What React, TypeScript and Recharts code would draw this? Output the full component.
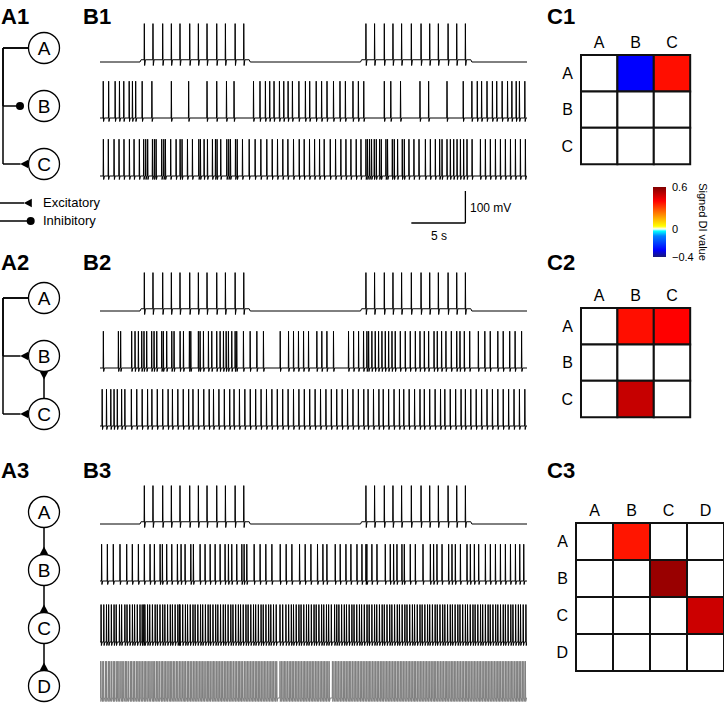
import React from "react";
import {
  LineChart, Line, XAxis, YAxis, ScatterChart, Scatter,
  ReferenceLine, ReferenceDot, ReferenceArea, ComposedChart, Bar,
} from "recharts";

const FONT = "'Liberation Sans', Arial, sans-serif";

// ---- B: spike times (s) ----
const T_END = 39.5;
const spikesA = [4.1, 4.9, 5.8, 6.6, 7.4, 8.3, 9.1, 9.9, 10.8, 11.6, 12.5, 13.3,
  24.6, 25.4, 26.3, 27.1, 27.9, 28.8, 29.7, 30.5, 31.3, 32.2, 33.0, 33.8];
const burstsA: [number, number][] = [[3.7, 13.9], [24.1, 34.4]];

const spikesB1b = [0.3, 0.8, 1.4, 1.8, 2.2, 2.7, 3.0, 3.3, 3.9, 4.8, 6.6, 8.2, 9.9, 10.8, 11.7, 12.4,
  14.2, 14.8, 15.3, 15.7, 16.1, 16.6, 17.0, 17.4, 17.8, 18.4, 19.0, 19.4, 20.0, 20.5, 21.0, 21.6,
  22.2, 22.7, 23.4, 23.9, 24.4, 26.3, 26.9, 27.8, 29.6, 30.4, 32.1, 33.6, 34.4, 34.9, 35.3, 35.8,
  36.3, 36.7, 37.2, 37.7, 38.1, 38.5, 38.8, 39.3];
const spikesB1c = [0.31, 0.77, 1.3, 1.76, 2.22, 2.72, 3.15, 3.64, 4.04, 4.23, 4.41, 4.85, 5.03, 5.19,
  5.71, 5.9, 6.05, 6.54, 7.04, 7.41, 7.59, 8.09, 8.55, 9.14, 9.29, 9.63, 9.94, 10.4, 10.68, 10.83,
  11.17, 11.73, 11.91, 12.07, 12.53, 12.69, 13.18, 13.8, 14.35, 14.88, 15.43, 15.93, 16.42, 16.91,
  17.38, 17.9, 18.43, 18.89, 19.38, 19.85, 20.31, 20.74, 21.3, 21.79, 22.28, 22.75, 23.21, 23.7,
  24.14, 24.6, 24.75, 24.94, 25.12, 25.37, 25.56, 25.86, 26.02, 26.45, 26.6, 27.04, 27.22, 27.53,
  27.96, 28.15, 28.58, 29.04, 29.51, 30.1, 30.56, 31.02, 31.42, 31.64, 32.1, 32.41, 32.72, 33.03,
  33.34, 33.64, 33.95, 34.42, 35.19, 35.65, 36.11, 36.58, 37.04, 37.5, 37.97, 38.43, 38.89, 39.35];

const spikesB2b = [0.31, 1.7, 1.91, 2.93, 3.24, 3.55, 3.86, 4.07, 4.32, 4.78, 5.0, 5.25, 5.71, 5.86,
  6.17, 6.64, 6.85, 7.41, 7.72, 8.27, 8.4, 9.1, 9.26, 9.57, 10.03, 10.34, 10.8, 11.11, 11.42, 11.67,
  11.88, 12.19, 12.5, 12.65, 13.27, 13.89, 14.51, 15.12, 16.67, 17.44, 17.9, 18.36, 18.83, 19.29,
  20.06, 20.52, 20.99, 21.6, 22.99, 23.46, 23.92, 24.38, 24.69, 24.85, 25.15, 25.46, 25.77, 26.08,
  26.39, 26.7, 27.01, 27.31, 27.78, 28.24, 28.7, 29.17, 29.6, 30.0, 30.4, 30.9, 31.2, 31.6, 32.0,
  32.5, 33.0, 33.3, 33.7, 34.2, 35.0, 35.6, 36.1, 36.8, 37.3, 37.9, 38.4, 39.0];
const spikesB2c = [0.2, 0.6, 1.0, 1.3, 1.6, 2.0, 2.3, 2.9, 3.4, 3.9, 4.4, 4.8, 5.3, 5.8, 6.3, 6.7,
  7.2, 7.7, 8.2, 8.6, 9.1, 9.6, 10.1, 10.5, 11.0, 11.5, 12.0, 12.4, 12.9, 13.4, 13.9, 14.4, 14.9,
  15.4, 15.9, 16.4, 16.9, 17.4, 17.9, 18.4, 18.9, 19.4, 19.9, 20.4, 20.9, 21.4, 21.9, 22.4, 22.9,
  23.4, 23.9, 24.4, 24.8, 25.3, 25.8, 26.2, 26.7, 27.2, 27.7, 28.1, 28.6, 29.1, 29.6, 30.0, 30.5,
  31.0, 31.5, 31.9, 32.4, 32.9, 33.4, 33.8, 34.3, 34.8, 35.3, 35.8, 36.3, 36.8, 37.3, 37.8, 38.3,
  38.8, 39.3];

const spikesB3b = [0.15, 0.68, 1.23, 1.85, 2.47, 2.99, 3.55, 4.1, 4.63, 5.03, 5.56, 5.77, 6.17, 6.64,
  7.16, 7.5, 7.87, 8.4, 8.64, 9.26, 9.72, 10.19, 10.65, 11.11, 11.57, 11.88, 12.19, 12.65, 13.12,
  13.33, 13.58, 14.26, 14.81, 15.34, 15.9, 16.67, 17.22, 17.75, 18.46, 18.98, 19.51, 20.12, 20.62,
  20.99, 21.76, 22.22, 22.75, 23.21, 23.77, 24.23, 24.6, 24.69, 25.15, 25.62, 26.39, 26.85, 27.16,
  27.47, 27.93, 28.15, 28.7, 29.17, 29.88, 30.56, 30.86, 31.17, 31.64, 32.25, 32.56, 32.87, 33.34,
  33.95, 34.26, 34.63, 35.03, 35.65, 36.11, 36.58, 37.04, 37.5, 37.97, 38.43, 38.83, 39.2];
const spikesB3c = [0.1, 0.35, 0.6, 0.8, 1.05, 1.3, 1.5, 1.8, 2.0, 2.3, 2.5, 2.75, 3.0, 3.2, 3.45, 3.7,
  3.9, 4.05, 4.15, 4.4, 4.6, 4.85, 5.1, 5.3, 5.55, 5.8, 6.0, 6.25, 6.5, 6.7, 6.95, 7.2, 7.35, 7.4,
  7.65, 7.9, 8.1, 8.35, 8.6, 8.8, 9.05, 9.3, 9.5, 9.75, 10.0, 10.2, 10.45, 10.7, 10.9, 11.15, 11.4,
  11.6, 11.85, 12.1, 12.3, 12.55, 12.8, 13.0, 13.25, 13.5, 13.7, 13.95, 14.2, 14.4, 14.65, 14.9, 15.1,
  15.35, 15.6, 15.8, 16.05, 16.3, 16.65, 16.9, 17.2, 17.45, 17.7, 17.9, 18.15, 18.4, 18.6, 18.85,
  19.1, 19.3, 19.55, 19.8, 20.0, 20.25, 20.5, 20.7, 20.95, 21.15, 21.4, 21.7, 21.9, 22.1, 22.35,
  22.6, 22.8, 23.05, 23.3, 23.5, 23.75, 24.0, 24.2, 24.45, 24.7, 24.9, 25.15, 25.4, 25.6, 25.85,
  26.1, 26.3, 26.55, 26.8, 27.0, 27.25, 27.5, 27.7, 27.95, 28.2, 28.4, 28.65, 28.9, 29.1, 29.35,
  29.6, 29.8, 30.05, 30.3, 30.5, 30.75, 31.0, 31.2, 31.45, 31.7, 31.9, 32.15, 32.4, 32.6, 32.85,
  33.1, 33.3, 33.55, 33.8, 34.0, 34.25, 34.5, 34.7, 34.95, 35.2, 35.4, 35.65, 35.9, 36.1, 36.35,
  36.6, 36.8, 37.05, 37.3, 37.5, 37.75, 38.0, 38.2, 38.45, 38.7, 38.9, 39.15, 39.4];
const spikesB3d = [0.05, 0.2, 0.32, 0.5, 0.61, 0.78, 0.9, 1.05, 1.22, 1.33, 1.5, 1.64, 1.76, 1.93,
  2.05, 2.2, 2.36, 2.47, 2.62, 2.8, 2.91, 3.07, 3.2, 3.36, 3.5, 3.63, 3.79, 3.92, 4.08, 4.2, 4.35,
  4.51, 4.63, 4.8, 4.92, 5.06, 5.22, 5.35, 5.49, 5.66, 5.78, 5.93, 6.07, 6.21, 6.37, 6.5, 6.64,
  6.79, 6.92, 7.08, 7.2, 7.36, 7.49, 7.65, 7.78, 7.91, 8.07, 8.2, 8.35, 8.49, 8.64, 8.78, 8.92,
  9.06, 9.22, 9.35, 9.5, 9.63, 9.79, 9.93, 10.06, 10.2, 10.36, 10.5, 10.63, 10.79, 10.92, 11.07,
  11.21, 11.35, 11.5, 11.64, 11.78, 11.93, 12.07, 12.2, 12.35, 12.5, 12.64, 12.79, 12.92, 13.06,
  13.2, 13.36, 13.5, 13.64, 13.78, 13.93, 14.07, 14.21, 14.36, 14.5, 14.64, 14.78, 14.92, 15.07,
  15.21, 15.35, 15.5, 15.64, 15.79, 15.92, 16.06, 16.21, 16.35, 16.65, 16.78, 16.93, 17.07,
  17.2, 17.35, 17.5, 17.64, 17.78, 17.92, 18.07, 18.21, 18.35, 18.5, 18.64, 18.79, 18.92, 19.06,
  19.21, 19.35, 19.5, 19.64, 19.78, 19.93, 20.07, 20.2, 20.36, 20.5, 20.64, 20.78, 20.92, 21.07,
  21.2, 21.5, 21.64, 21.79, 21.92, 22.06, 22.21, 22.35, 22.5, 22.64, 22.78, 22.93, 23.07,
  23.2, 23.35, 23.5, 23.64, 23.78, 23.92, 24.07, 24.21, 24.35, 24.5, 24.64, 24.79, 24.92, 25.06,
  25.21, 25.35, 25.5, 25.64, 25.78, 25.93, 26.07, 26.2, 26.36, 26.5, 26.64, 26.78, 26.92, 27.07,
  27.21, 27.35, 27.5, 27.64, 27.79, 27.92, 28.06, 28.21, 28.35, 28.5, 28.64, 28.78, 28.93, 29.07,
  29.2, 29.35, 29.5, 29.64, 29.78, 29.92, 30.07, 30.21, 30.35, 30.5, 30.64, 30.79, 30.92, 31.06,
  31.21, 31.35, 31.5, 31.64, 31.78, 31.93, 32.07, 32.2, 32.36, 32.5, 32.64, 32.78, 32.92, 33.07,
  33.21, 33.35, 33.5, 33.64, 33.79, 33.92, 34.06, 34.21, 34.35, 34.5, 34.64, 34.78, 34.93, 35.07,
  35.2, 35.35, 35.5, 35.64, 35.78, 35.92, 36.07, 36.21, 36.35, 36.5, 36.64, 36.79, 36.92, 37.06,
  37.21, 37.35, 37.5, 37.64, 37.78, 37.93, 38.07, 38.2, 38.36, 38.5, 38.64, 38.78, 38.92, 39.07,
  39.21, 39.35];

// ---- C: signed DI matrices (row = driver, column = target) ----
const labels3 = ["A", "B", "C"];
const labels4 = ["A", "B", "C", "D"];
const diC1 = [[0, -0.3, 0.38], [0, 0, 0], [0, 0, 0]];
const diC2 = [[0, 0.38, 0.4], [0, 0, 0], [0, 0.49, 0]];
const diC3 = [[0, 0.37, 0, 0], [0, 0, 0.56, 0], [0, 0, 0, 0.48], [0, 0, 0, 0]];
const cbTicks = [-0.4, 0, 0.6];

// colormap for signed DI
const cmap: [number, number[]][] = [
  [-0.4, [25, 25, 120]], [-0.3, [0, 0, 255]], [-0.1, [0, 128, 255]], [-0.03, [0, 255, 255]],
  [0, [255, 255, 255]], [0.04, [255, 255, 0]], [0.2, [255, 140, 0]], [0.4, [255, 0, 0]],
  [0.6, [128, 0, 0]],
];
function diColor(v: number) {
  if (v === 0) return "#ffffff";
  for (let i = 1; i < cmap.length; i++) {
    const [v1, c1] = cmap[i];
    const [v0, c0] = cmap[i - 1];
    if (v <= v1) {
      const f = (v - v0) / (v1 - v0);
      const c = c0.map((x, k) => Math.round(x + (c1[k] - x) * f));
      return `rgb(${c[0]},${c[1]},${c[2]})`;
    }
  }
  return "rgb(128,0,0)";
}

// ---- traces ----
const REST = -65;
const AHP = -76;
const MV_PX = 0.32;
const TH = 56;
const BASE_OFF = 44;
const Y_MAX = REST + BASE_OFF / MV_PX;
const Y_MIN = Y_MAX - TH / MV_PX;

function buildTrace(spikes: number[], peak: number, bursts: [number, number][] = [], lift = 0) {
  const base = (t: number) => REST + (bursts.some(([a, b]) => t >= a && t <= b) ? lift : 0);
  const pts: { t: number; v: number }[] = [{ t: 0, v: REST }, { t: T_END, v: REST }];
  bursts.forEach(([a, b]) => {
    pts.push({ t: a, v: REST }, { t: a + 0.1, v: REST + lift }, { t: b - 0.1, v: REST + lift }, { t: b, v: REST });
  });
  spikes.forEach((s) => {
    const b = base(s);
    pts.push({ t: s - 0.02, v: b }, { t: s, v: peak }, { t: s + 0.03, v: AHP }, { t: s + 0.1, v: b });
  });
  return pts.sort((p, q) => p.t - q.t);
}

function Trace({ baseline, data, color = "#000" }: { baseline: number; data: { t: number; v: number }[]; color?: string }) {
  return (
    <div style={{ position: "absolute", left: 100, top: baseline - BASE_OFF }}>
      <LineChart width={427} height={TH} data={data} margin={{ top: 0, right: 0, bottom: 0, left: 0 }}>
        <XAxis dataKey="t" type="number" domain={[0, T_END]} hide />
        <YAxis type="number" domain={[Y_MIN, Y_MAX]} hide allowDataOverflow />
        <Line dataKey="v" dot={false} stroke={color} strokeWidth={1} isAnimationActive={false} />
      </LineChart>
    </div>
  );
}

function ScaleBar() {
  // 5 s by 100 mV, same scales as the traces
  const top = 183;
  const h = 70;
  const ymax = 40 / MV_PX;
  return (
    <div style={{ position: "absolute", left: 100, top }}>
      <LineChart width={427} height={h} data={[{ t: 0, v: 0 }]} margin={{ top: 0, right: 0, bottom: 0, left: 0 }}>
        <XAxis dataKey="t" type="number" domain={[0, T_END]} hide />
        <YAxis type="number" domain={[ymax - h / MV_PX, ymax]} hide />
        <Line dataKey="v" dot={false} stroke="none" isAnimationActive={false} />
        <ReferenceLine segment={[{ x: 28.8, y: 0 }, { x: 33.8, y: 0 }]} stroke="#000" strokeWidth={1.3} />
        <ReferenceLine segment={[{ x: 33.8, y: 0 }, { x: 33.8, y: 100 }]} stroke="#000" strokeWidth={1.3} />
      </LineChart>
    </div>
  );
}

// ---- circuit diagrams ----
const R = 15.5;
const STEP = 58;
const PX = 41;
type Conn = [number, number, "exc" | "inh", "bus" | "direct"];

const netA1 = ["A", "B", "C"];
const connA1: Conn[] = [[0, 1, "inh", "bus"], [0, 2, "exc", "bus"]];
const netA2 = ["A", "B", "C"];
const connA2: Conn[] = [[0, 1, "exc", "bus"], [0, 2, "exc", "bus"], [2, 1, "exc", "direct"]];
const netA3 = ["A", "B", "C", "D"];
const connA3: Conn[] = [[0, 1, "exc", "direct"], [1, 2, "exc", "direct"], [2, 3, "exc", "direct"]];

const TRI_W = 4.3;
const TRI_L = 8;
const tri = (dir: "left" | "up" | "down") => (p: any) => {
  const { cx, cy } = p;
  const pts =
    dir === "left" ? `${cx},${cy - TRI_W} ${cx},${cy + TRI_W} ${cx - TRI_L},${cy}`
      : dir === "up" ? `${cx - TRI_W},${cy} ${cx + TRI_W},${cy} ${cx},${cy - TRI_L}`
        : `${cx - TRI_W},${cy} ${cx + TRI_W},${cy} ${cx},${cy + TRI_L}`;
  return <polygon points={pts} fill="#000" />;
};
const knob = (p: any) => <circle cx={p.cx} cy={p.cy} r={4} fill="#000" />;

const nodeShape = (p: any) => (
  <g>
    <circle cx={p.cx} cy={p.cy} r={R} fill="#fff" stroke="#000" strokeWidth={1.3} />
    <text x={p.cx} y={p.cy + 6.8} textAnchor="middle" fontSize={19} fontFamily={FONT} fill="#000">
      {p.payload.name}
    </text>
  </g>
);

function Circuit({ top, nodes, conns }: { top: number; nodes: string[]; conns: Conn[] }) {
  const n = nodes.length;
  const rx = R / PX;
  const ry = R / STEP;
  const data = nodes.map((name, i) => ({ x: 1, y: i, name }));
  const lw = 1.5;
  const parts: React.ReactNode[] = [];
  conns.forEach(([a, b, kind, route], k) => {
    if (route === "bus") {
      const end = kind === "exc" ? 1 - rx - TRI_L / PX : 1 - rx - 8.5 / PX;
      parts.push(
        <ReferenceLine key={`h${k}`} segment={[{ x: 1 - rx, y: a }, { x: 0, y: a }]} stroke="#000" strokeWidth={lw} ifOverflow="visible" />,
        <ReferenceLine key={`v${k}`} segment={[{ x: 0, y: a }, { x: 0, y: b }]} stroke="#000" strokeWidth={lw} ifOverflow="visible" />,
        <ReferenceLine key={`t${k}`} segment={[{ x: 0, y: b }, { x: end, y: b }]} stroke="#000" strokeWidth={lw} ifOverflow="visible" />,
        kind === "exc"
          ? <ReferenceDot key={`m${k}`} x={1 - rx - 0.3 / PX} y={b} r={0} shape={tri("left")} ifOverflow="visible" />
          : <ReferenceDot key={`m${k}`} x={end} y={b} r={0} shape={knob} ifOverflow="visible" />,
      );
    } else {
      const down = b > a;
      const y0 = down ? a + ry : a - ry;
      const y1 = down ? b - ry : b + ry;
      parts.push(
        <ReferenceLine key={`d${k}`} segment={[{ x: 1, y: y0 }, { x: 1, y: y1 }]} stroke="#000" strokeWidth={lw} ifOverflow="visible" />,
        <ReferenceDot key={`m${k}`} x={1} y={y1} r={0} shape={tri(down ? "up" : "down")} ifOverflow="visible" />,
      );
    }
  });
  return (
    <div style={{ position: "absolute", left: 0, top }}>
      <ScatterChart width={70} height={(n - 1) * STEP + 36} margin={{ top: 18, right: 26, bottom: 18, left: 3 }}>
        <XAxis dataKey="x" type="number" domain={[0, 1]} hide />
        <YAxis dataKey="y" type="number" domain={[0, n - 1]} reversed hide />
        {parts}
        <Scatter data={data} shape={nodeShape} isAnimationActive={false} />
      </ScatterChart>
    </div>
  );
}

const legendRows = ["Excitatory", "Inhibitory"];
function SynapseLegend() {
  return (
    <div style={{ position: "absolute", left: 0, top: 194 }}>
      <ScatterChart width={120} height={36} margin={{ top: 9, right: 79, bottom: 9, left: 0 }}>
        <XAxis dataKey="x" type="number" domain={[0, 1]} hide />
        <YAxis dataKey="y" type="number" domain={[0, 1]} reversed hide />
        <ReferenceLine segment={[{ x: 0, y: 0 }, { x: 24 / PX, y: 0 }]} stroke="#000" strokeWidth={1.5} />
        <ReferenceDot x={31.8 / PX} y={0} r={0} shape={tri("left")} />
        <ReferenceLine segment={[{ x: 0, y: 1 }, { x: 30.7 / PX, y: 1 }]} stroke="#000" strokeWidth={1.5} />
        <ReferenceDot x={30.7 / PX} y={1} r={0} shape={knob} />
        <Scatter data={[{ x: 0, y: 0 }]} shape={() => <g />} isAnimationActive={false} />
      </ScatterChart>
      {legendRows.map((t, i) => (
        <div key={t} style={{ position: "absolute", left: 43, top: 1 + i * 18, fontSize: 13, lineHeight: "16px", fontFamily: FONT }}>
          {t}
        </div>
      ))}
    </div>
  );
}

// ---- matrices ----
function Matrix({ left, top, cell, labels, values }: { left: number; top: number; cell: number; labels: string[]; values: number[][] }) {
  const n = labels.length;
  const ticks = labels.map((_, i) => i + 0.5);
  const aw = 30;
  const centers = labels.map((_, i) => ({ x: i + 0.5, y: i + 0.5 }));
  const fmt = (v: number) => labels[Math.floor(v)];
  const tickStyle = { fontSize: 16, fill: "#000", fontFamily: FONT };
  return (
    <div style={{ position: "absolute", left: left - aw, top: top - aw }}>
      <ComposedChart width={aw + n * cell + 3} height={aw + n * cell + 3} margin={{ top: 0, right: 3, bottom: 3, left: 0 }}>
        <XAxis dataKey="x" type="number" domain={[0, n]} ticks={ticks} orientation="top" height={aw}
          tickFormatter={fmt} axisLine={false} tickLine={false} tickSize={5} tickMargin={2} tick={tickStyle} interval={0} />
        <YAxis dataKey="y" type="number" domain={[0, n]} ticks={ticks} reversed width={aw}
          tickFormatter={fmt} axisLine={false} tickLine={false} tickSize={6} tickMargin={2} tick={tickStyle} interval={0} />
        <Scatter data={centers} shape={() => <g />} isAnimationActive={false} />
        {values.map((row, r) =>
          row.map((v, c) => (
            <ReferenceArea key={`${r}-${c}`} x1={c} x2={c + 1} y1={r} y2={r + 1} fill={diColor(v)} fillOpacity={1}
              stroke="#111" strokeWidth={2} ifOverflow="visible" />
          )),
        )}
      </ComposedChart>
    </div>
  );
}

const cbStops = [0.6, 0.5, 0.4, 0.3, 0.2, 0.1, 0.04, 0, -0.03, -0.1, -0.2, -0.3, -0.4];
function ColorBar() {
  return (
    <div style={{ position: "absolute", left: 653, top: 182 }}>
      <ComposedChart width={70} height={92} data={[{ name: "di", range: [-0.4, 0.6] }]} barCategoryGap={0}
        margin={{ top: 5, right: 0, bottom: 17, left: 0 }}>
        <defs>
          <linearGradient id="diGrad" x1="0" y1="0" x2="0" y2="1">
            {cbStops.map((v) => (
              <stop key={v} offset={`${((0.6 - v) / 1.0) * 100}%`} stopColor={v === 0 ? "#fff" : diColor(v)} />
            ))}
          </linearGradient>
        </defs>
        <XAxis dataKey="name" type="category" hide />
        <YAxis type="number" orientation="right" domain={[-0.4, 0.6]} ticks={cbTicks} width={57} interval={0}
          axisLine={false} tickLine={false} tickSize={4} tickMargin={2}
          tickFormatter={(v: number) => (v < 0 ? `\u2212${Math.abs(v)}` : `${v}`)}
          tick={{ fontSize: 11, fill: "#000", fontFamily: FONT }}
          label={{ value: "Signed DI value", angle: 90, position: "center", dx: 8, fontSize: 11, fill: "#000", fontFamily: FONT }} />
        <Bar dataKey="range" fill="url(#diGrad)" isAnimationActive={false} />
      </ComposedChart>
    </div>
  );
}

const panelLabels = [
  { t: "A1", x: 1, y: 9 }, { t: "B1", x: 83, y: 9 }, { t: "C1", x: 547, y: 9 },
  { t: "A2", x: 1, y: 255 }, { t: "B2", x: 83, y: 255 }, { t: "C2", x: 547, y: 255 },
  { t: "A3", x: 1, y: 463 }, { t: "B3", x: 83, y: 463 }, { t: "C3", x: 547, y: 463 },
];

export default function App() {
  return (
    <div style={{ position: "absolute", left: 0, top: 0, width: 724, height: 703, background: "#fff", overflow: "hidden", fontFamily: FONT }}>
      {panelLabels.map((l) => (
        <div key={l.t} style={{ position: "absolute", left: l.x, top: l.y - 2.9, fontSize: 22, lineHeight: "22px", fontWeight: "bold" }}>
          {l.t}
        </div>
      ))}

      <Circuit top={30} nodes={netA1} conns={connA1} />
      <SynapseLegend />
      <Circuit top={280} nodes={netA2} conns={connA2} />
      <Circuit top={494} nodes={netA3} conns={connA3} />

      <Trace baseline={62} data={buildTrace(spikesA, 55, burstsA, 7)} />
      <Trace baseline={118} data={buildTrace(spikesB1b, 50)} />
      <Trace baseline={176} data={buildTrace(spikesB1c, 50)} />
      <ScaleBar />
      <div style={{ position: "absolute", left: 470, top: 201, fontSize: 12, lineHeight: "14px" }}>100 mV</div>
      <div style={{ position: "absolute", left: 431, top: 229, fontSize: 12, lineHeight: "14px" }}>5 s</div>

      <Trace baseline={311} data={buildTrace(spikesA, 55, burstsA, 7)} />
      <Trace baseline={368} data={buildTrace(spikesB2b, 50)} />
      <Trace baseline={426} data={buildTrace(spikesB2c, 50)} />

      <Trace baseline={524} data={buildTrace(spikesA, 55, burstsA, 7)} />
      <Trace baseline={581} data={buildTrace(spikesB3b, 50)} />
      <Trace baseline={642} data={buildTrace(spikesB3c, 52)} />
      <Trace baseline={698} data={buildTrace(spikesB3d, 50)} color="#808080" />

      <Matrix left={581} top={55} cell={36.4} labels={labels3} values={diC1} />
      <Matrix left={581} top={308} cell={36.4} labels={labels3} values={diC2} />
      <Matrix left={576} top={523} cell={37} labels={labels4} values={diC3} />
      <ColorBar />
    </div>
  );
}
